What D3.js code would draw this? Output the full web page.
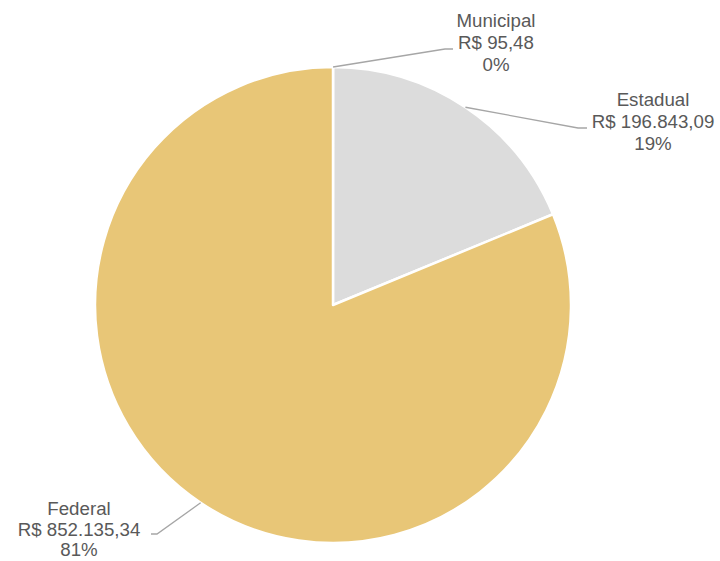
<!DOCTYPE html>
<html>
<head>
<meta charset="utf-8">
<script src="https://cdn.jsdelivr.net/npm/d3@7"></script>
<style>
  body { margin: 0; background: #fff; }
  svg { display: block; font-family: "Liberation Sans", Arial, sans-serif; }
</style>
</head>
<body>
<div id="chart"></div>
<script>
// Data
const categories = ["Municipal", "Estadual", "Federal"];
const values = [95.48, 196843.09, 852135.34];
const valueLabels = ["R$ 95,48", "R$ 196.843,09", "R$ 852.135,34"];
const percentLabels = ["0%", "19%", "81%"];
const colors = ["#DCDCDC", "#DCDCDC", "#E8C677"];

// Label layout: text centre, first baseline, line gap, elbow of the leader line
const labelLayout = [
    { x: 496, y: 27, gap: 22, elbow: [445, 49], end: [453, 49] },
    { x: 653, y: 106, gap: 22, elbow: [578, 128], end: [587, 128] },
    { x: 79, y: 515, gap: 20.5, elbow: [157, 534], end: [151, 534] }
];

const width = 720, height = 561;
const cx = 333, cy = 305, radius = 238;

const svg = d3.select("#chart")
    .append("svg")
    .attr("width", width)
    .attr("height", height);

const g = svg.append("g")
    .attr("transform", `translate(${cx},${cy})`);

const pie = d3.pie().sort(null).value(d => d.value);
const arc = d3.arc().innerRadius(0).outerRadius(radius);
const edge = d3.arc().innerRadius(radius).outerRadius(radius);

const data = categories.map((c, i) => ({ name: c, value: values[i], i }));
const arcs = pie(data);

g.selectAll("path.slice")
    .data(arcs)
    .join("path")
    .attr("class", "slice")
    .attr("d", arc)
    .attr("fill", d => colors[d.data.i])
    .attr("stroke", "#fff")
    .attr("stroke-width", 2.5)
    .attr("stroke-linejoin", "round");

// Leader lines
svg.selectAll("polyline.leader")
    .data(arcs)
    .join("polyline")
    .attr("class", "leader")
    .attr("fill", "none")
    .attr("stroke", "#A6A6A6")
    .attr("stroke-width", 1.3)
    .attr("points", d => {
        const c = edge.centroid(d);
        const l = labelLayout[d.data.i];
        return [[cx + c[0], cy + c[1]], l.elbow, l.end].map(p => p.join(",")).join(" ");
    });

// Labels
const labels = svg.selectAll("text.label")
    .data(arcs)
    .join("text")
    .attr("class", "label")
    .attr("text-anchor", "middle")
    .style("font-size", "18.7px")
    .style("fill", "#595959");

labels.each(function(d) {
    const l = labelLayout[d.data.i];
    const t = d3.select(this);
    [d.data.name, valueLabels[d.data.i], percentLabels[d.data.i]].forEach((s, k) => {
        t.append("tspan")
            .attr("x", l.x)
            .attr("y", l.y + k * l.gap)
            .text(s);
    });
});
</script>
</body>
</html>
